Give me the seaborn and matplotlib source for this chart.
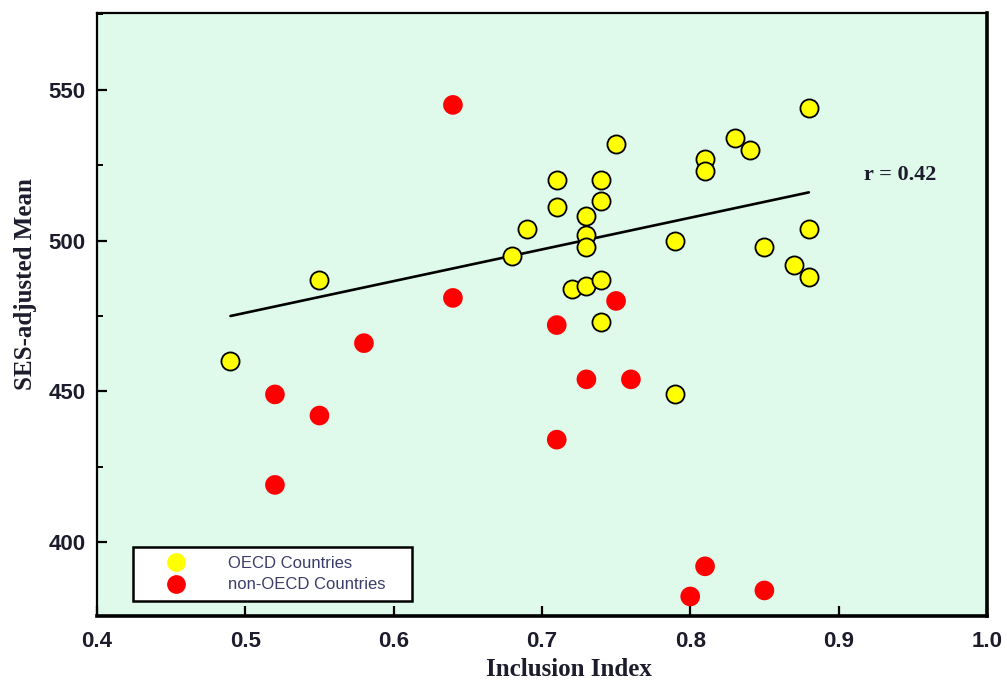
import pandas as pd
import matplotlib
matplotlib.use("Agg")
import matplotlib.pyplot as plt
from matplotlib.ticker import MultipleLocator
from matplotlib.lines import Line2D
import seaborn as sns

# === Data ===
oecd_x = [0.49, 0.55, 0.68, 0.69, 0.71, 0.71, 0.72, 0.73, 0.74, 0.74, 0.73, 0.73, 0.73, 0.74,
          0.74, 0.75, 0.79, 0.79, 0.81, 0.81, 0.83, 0.84, 0.85, 0.87, 0.88, 0.88, 0.88]
oecd_y = [460, 487, 495, 504, 520, 511, 484, 485, 487, 473, 508, 502, 498, 520,
          513, 532, 500, 449, 527, 523, 534, 530, 498, 492, 488, 504, 544]

non_oecd_x = [0.64, 0.64, 0.58, 0.52, 0.55, 0.52, 0.71, 0.75, 0.73, 0.76, 0.71, 0.81, 0.80, 0.85]
non_oecd_y = [545, 481, 466, 449, 442, 419, 472, 480, 454, 454, 434, 392, 382, 384]

fit_x = [0.49, 0.88]
fit_y = [475, 516]

r_label = "r = 0.42"
x_ticks = [0.4, 0.5, 0.6, 0.7, 0.8, 0.9, 1.0]
y_ticks = [400, 450, 500, 550]

TEXT = "#1c1c2c"

sns.set_style("ticks")

fig, ax = plt.subplots(figsize=(10.07, 6.8), dpi=100)
fig.subplots_adjust(left=0.0963, right=0.980, top=0.981, bottom=0.094)
ax.set_facecolor("#DFFAEA")

df_o = pd.DataFrame({"x": oecd_x, "y": oecd_y})
df_n = pd.DataFrame({"x": non_oecd_x, "y": non_oecd_y})
df_fit = pd.DataFrame({"x": fit_x, "y": fit_y})

sns.lineplot(data=df_fit, x="x", y="y", color="black", linewidth=1.9, ax=ax, zorder=2)
sns.scatterplot(data=df_n, x="x", y="y", color="#FF0000", s=200, edgecolor="none",
                linewidth=0, ax=ax, zorder=3)
sns.scatterplot(data=df_o, x="x", y="y", color="#FFFF00", s=170, edgecolor="black",
                linewidth=1.3, ax=ax, zorder=4)

ax.text(0.917, 521.6, r_label, fontsize=16, fontweight="bold", family="Liberation Serif",
        color=TEXT, va="center", ha="left")

# Axis limits and ticks
ax.set_xlim(0.4, 1.0)
ax.set_ylim(375.5, 575.5)
ax.set_xticks(x_ticks)
ax.set_xticklabels([f"{t:.1f}" for t in x_ticks])
ax.set_yticks(y_ticks)
ax.yaxis.set_minor_locator(MultipleLocator(25))
ax.tick_params(axis="both", which="major", direction="in", length=7, width=1.6,
               color="black", labelcolor=TEXT)
ax.tick_params(axis="y", which="minor", direction="in", length=4, width=1.4, color="black")
ax.tick_params(axis="x", which="major", pad=11)
ax.tick_params(axis="y", which="major", pad=8)
for lab in ax.get_xticklabels() + ax.get_yticklabels():
    lab.set_fontfamily("Liberation Sans")
    lab.set_fontweight("bold")
    lab.set_fontsize(16)

# Labels
ax.set_xlabel("Inclusion Index", fontsize=18, fontweight="bold", family="Liberation Serif",
              color=TEXT)
ax.set_ylabel("SES-adjusted Mean", fontsize=18, fontweight="bold", family="Liberation Serif",
              color=TEXT)
ax.xaxis.set_label_coords(0.53, -0.07)
ax.yaxis.set_label_coords(-0.067, 0.55)

# Spines
for side in ["left", "top"]:
    ax.spines[side].set_linewidth(1.6)
for side in ["right", "bottom"]:
    ax.spines[side].set_linewidth(2.6)
for s in ax.spines.values():
    s.set_color("black")
    s.set_visible(True)

# === Legend ===
handles = [
    Line2D([], [], marker="o", linestyle="none", markersize=13.5, markerfacecolor="#FFFF00",
           markeredgecolor="none", label="OECD Countries"),
    Line2D([], [], marker="o", linestyle="none", markersize=13.5, markerfacecolor="#FF0000",
           markeredgecolor="none", label="non-OECD Countries"),
]
legend = ax.legend(
    handles=handles,
    loc="lower left",
    bbox_to_anchor=(0.0404, 0.0249, 0.3135, 0.0896),
    mode="expand",
    borderaxespad=0,
    borderpad=0.52,
    handlelength=4.1,
    handletextpad=1.06,
    labelspacing=0.4,
    frameon=True,
    fancybox=False,
    prop={"family": "Liberation Sans", "size": 12},
)
legend.get_frame().set_facecolor("white")
legend.get_frame().set_edgecolor("black")
legend.get_frame().set_linewidth(1.8)
legend.get_frame().set_alpha(1)
for t in legend.get_texts():
    t.set_color("#3c3c6a")

fig.savefig("out.png", dpi=100)
plt.close(fig)
